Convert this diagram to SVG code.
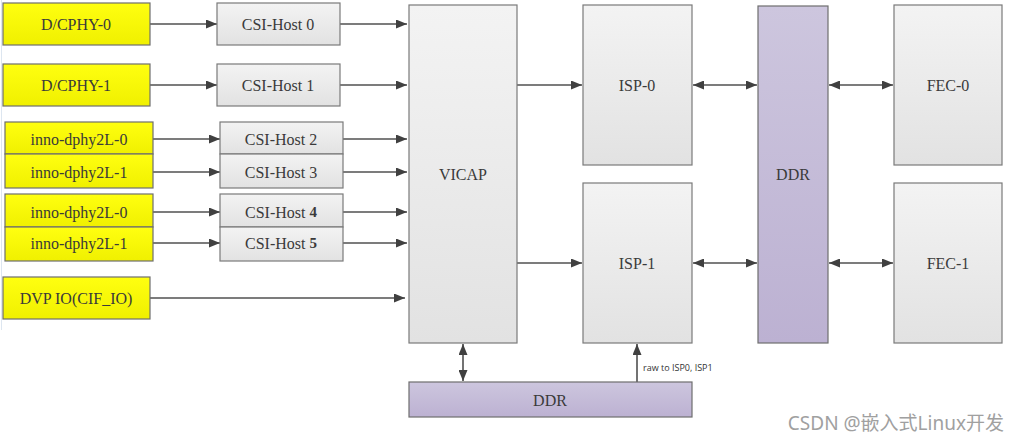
<svg xmlns="http://www.w3.org/2000/svg" width="1020" height="443" viewBox="0 0 1020 443">
<style>
.y{fill:url(#gy);stroke:#6e6e6e;stroke-width:1.2}
.g{fill:url(#gg);stroke:#7a7a7a;stroke-width:1.2}
.p{fill:url(#gp);stroke:#6e6e6e;stroke-width:1.2}
.t{font-family:"Liberation Serif",serif;font-size:16px;fill:#3a3a3a;text-anchor:middle;dominant-baseline:central}
.c{stroke:#505050;stroke-width:1.6;fill:none}
</style>
<defs>
<linearGradient id="gy" x1="0" y1="0" x2="0" y2="1"><stop offset="0" stop-color="#ffff10"/><stop offset="1" stop-color="#f0f000"/></linearGradient>
<linearGradient id="gg" x1="0" y1="0" x2="0" y2="1"><stop offset="0" stop-color="#f3f3f3"/><stop offset="1" stop-color="#e2e2e2"/></linearGradient>
<linearGradient id="gp" x1="0" y1="0" x2="0" y2="1"><stop offset="0" stop-color="#cdc6de"/><stop offset="1" stop-color="#bcb1d2"/></linearGradient>
<marker id="a" viewBox="0 0 11 9" refX="11" refY="4.5" markerWidth="11" markerHeight="9" markerUnits="userSpaceOnUse" orient="auto-start-reverse"><path d="M0,0 L11,4.5 L0,9 z" fill="#404040"/></marker>
</defs>
<rect width="1020" height="443" fill="#fff"/>
<line x1="1.5" y1="0" x2="1.5" y2="330" stroke="#dde6f0" stroke-width="1"/>

<g id="connectors">
<line class="c" x1="150" y1="24" x2="217" y2="24" marker-end="url(#a)"/>
<line class="c" x1="150" y1="85" x2="217" y2="85" marker-end="url(#a)"/>
<line class="c" x1="153" y1="139" x2="220" y2="139" marker-end="url(#a)"/>
<line class="c" x1="153" y1="172" x2="220" y2="172" marker-end="url(#a)"/>
<line class="c" x1="153" y1="212" x2="220" y2="212" marker-end="url(#a)"/>
<line class="c" x1="153" y1="243" x2="220" y2="243" marker-end="url(#a)"/>
<line class="c" x1="340" y1="24" x2="407" y2="24" marker-end="url(#a)"/>
<line class="c" x1="340" y1="85" x2="407" y2="85" marker-end="url(#a)"/>
<line class="c" x1="343" y1="139" x2="407" y2="139" marker-end="url(#a)"/>
<line class="c" x1="343" y1="172" x2="407" y2="172" marker-end="url(#a)"/>
<line class="c" x1="343" y1="212" x2="407" y2="212" marker-end="url(#a)"/>
<line class="c" x1="343" y1="243" x2="407" y2="243" marker-end="url(#a)"/>
<line class="c" x1="150" y1="298" x2="405" y2="298" marker-end="url(#a)"/>
<line class="c" x1="517" y1="85" x2="582" y2="85" marker-end="url(#a)"/>
<line class="c" x1="517" y1="263" x2="582" y2="263" marker-end="url(#a)"/>
<line class="c" x1="693" y1="85" x2="757" y2="85" marker-start="url(#a)" marker-end="url(#a)"/>
<line class="c" x1="829" y1="85" x2="893" y2="85" marker-start="url(#a)" marker-end="url(#a)"/>
<line class="c" x1="693" y1="263" x2="757" y2="263" marker-start="url(#a)" marker-end="url(#a)"/>
<line class="c" x1="829" y1="263" x2="893" y2="263" marker-start="url(#a)" marker-end="url(#a)"/>
<line class="c" x1="463" y1="344" x2="463" y2="381" marker-start="url(#a)" marker-end="url(#a)"/>
<line class="c" x1="637" y1="382" x2="637" y2="344" marker-end="url(#a)"/>
<text x="643" y="371" font-family="'Open Sans','DejaVu Sans',sans-serif" font-size="9" fill="#333">raw to ISP0, ISP1</text>
</g>

<g id="dcphy0"><rect class="y" x="3" y="3" width="147" height="42"/><text class="t" x="76" y="24">D/CPHY-0</text></g>
<g id="dcphy1"><rect class="y" x="3" y="64" width="147" height="42"/><text class="t" x="76" y="85">D/CPHY-1</text></g>
<g id="inno0a"><rect class="y" x="5" y="122" width="148" height="32"/><text class="t" x="79" y="139">inno-dphy2L-0</text></g>
<g id="inno1a"><rect class="y" x="5" y="154" width="148" height="34"/><text class="t" x="79" y="172">inno-dphy2L-1</text></g>
<g id="inno0b"><rect class="y" x="5" y="194" width="148" height="33"/><text class="t" x="79" y="212">inno-dphy2L-0</text></g>
<g id="inno1b"><rect class="y" x="5" y="227" width="148" height="34"/><text class="t" x="79" y="243">inno-dphy2L-1</text></g>
<g id="dvp"><rect class="y" x="3" y="277" width="147" height="42"/><text class="t" x="76" y="298">DVP IO(CIF_IO)</text></g>

<g id="csi0"><rect class="g" x="217" y="3" width="123" height="42"/><text class="t" x="278" y="24">CSI-Host 0</text></g>
<g id="csi1"><rect class="g" x="217" y="64" width="123" height="42"/><text class="t" x="278" y="85">CSI-Host 1</text></g>
<g id="csi2"><rect class="g" x="220" y="122" width="123" height="32"/><text class="t" x="281" y="139">CSI-Host 2</text></g>
<g id="csi3"><rect class="g" x="220" y="154" width="123" height="34"/><text class="t" x="281" y="172">CSI-Host 3</text></g>
<g id="csi4"><rect class="g" x="220" y="194" width="123" height="33"/><text class="t" x="281" y="212">CSI-Host <tspan font-weight="bold" font-size="15">4</tspan></text></g>
<g id="csi5"><rect class="g" x="220" y="227" width="123" height="34"/><text class="t" x="281" y="243">CSI-Host <tspan font-weight="bold" font-size="15">5</tspan></text></g>

<g id="vicap"><rect class="g" x="409" y="5" width="108" height="338"/><text class="t" x="463" y="174">VICAP</text></g>
<g id="isp0"><rect class="g" x="583" y="5" width="109" height="160"/><text class="t" x="637" y="85">ISP-0</text></g>
<g id="isp1"><rect class="g" x="583" y="183" width="109" height="160"/><text class="t" x="637" y="263">ISP-1</text></g>
<g id="ddr"><rect class="p" x="758" y="6" width="70" height="337"/><text class="t" x="793" y="174">DDR</text></g>
<g id="fec0"><rect class="g" x="894" y="5" width="108" height="160"/><text class="t" x="948" y="85">FEC-0</text></g>
<g id="fec1"><rect class="g" x="894" y="183" width="108" height="160"/><text class="t" x="948" y="263">FEC-1</text></g>
<g id="ddr2"><rect class="p" x="409" y="382" width="283" height="35"/><text class="t" x="550" y="400">DDR</text></g>

<text x="1004" y="430" text-anchor="end" font-family="'Noto Sans','Noto Sans CJK SC',sans-serif" font-size="19" fill="#a0a0a0">CSDN @嵌入式Linux开发</text>
</svg>
